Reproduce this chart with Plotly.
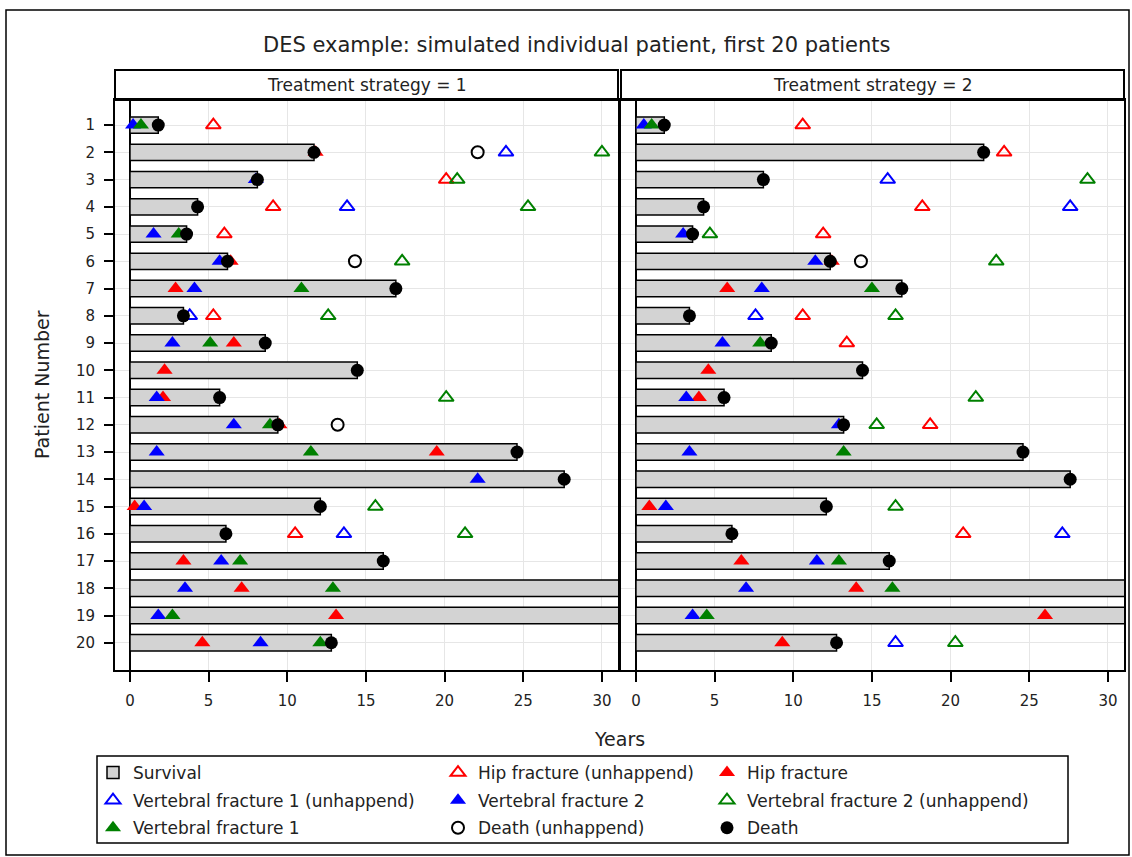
import plotly.graph_objects as go

patients = list(range(1, 21))
N = None

# ---------- Treatment strategy = 1 ----------
t1_survival = [1.8, 11.7, 8.1, 4.3, 3.6, 6.2, 16.9, 3.4, 8.6, 14.45, 5.7, 9.4, 24.6, 27.6, 12.1, 6.1, 16.1, 35, 35, 12.8]
t1_death    = [1.8, 11.7, 8.1, 4.3, 3.6, 6.2, 16.9, 3.4, 8.6, 14.45, 5.7, 9.4, 24.6, 27.6, 12.1, 6.1, 16.1, N, N, 12.8]
t1_hip      = [N, 11.8, N, N, N, 6.4, 2.9, N, 6.6, 2.2, 2.1, 9.5, 19.5, N, 0.3, N, 3.4, 7.1, 13.1, 4.6]
t1_vert2    = [0.2, N, 8.0, N, 1.5, 5.7, 4.1, N, 2.7, N, 1.7, 6.6, 1.7, 22.1, 0.9, N, 5.8, 3.5, 1.8, 8.3]
t1_vert1    = [0.7, N, N, N, 3.1, N, 10.9, N, 5.1, N, N, 8.9, 11.5, N, N, N, 7.0, 12.9, 2.7, 12.1]
t1_hip_un   = [5.3, N, 20.1, 9.1, 6.0, N, N, 5.3, N, N, N, N, N, N, N, 10.5, N, N, N, N]
t1_vert1_un = [N, 23.9, N, 13.8, N, N, N, 3.8, N, N, N, N, N, N, N, 13.6, N, N, N, N]
t1_vert2_un = [N, 30.0, 20.8, 25.3, N, 17.3, N, 12.6, N, N, 20.1, N, N, N, 15.6, 21.3, N, N, N, N]
t1_death_un = [N, 22.1, N, N, N, 14.3, N, N, N, N, N, 13.2, N, N, N, N, N, N, N, N]

# ---------- Treatment strategy = 2 ----------
t2_survival = [1.8, 22.1, 8.1, 4.3, 3.6, 12.35, 16.9, 3.4, 8.6, 14.4, 5.6, 13.2, 24.6, 27.6, 12.1, 6.1, 16.1, 35, 35, 12.75]
t2_death    = [1.8, 22.1, 8.1, 4.3, 3.6, 12.35, 16.9, 3.4, 8.6, 14.4, 5.6, 13.2, 24.6, 27.6, 12.1, 6.1, 16.1, N, N, 12.75]
t2_hip      = [N, N, N, N, N, 12.45, 5.8, N, N, 4.6, 4.0, N, N, N, 0.85, N, 6.7, 14.0, 26.0, 9.3]
t2_vert2    = [0.5, N, N, N, 3.0, 11.4, 8.0, N, 5.5, N, 3.2, 12.9, 3.4, N, 1.9, N, 11.5, 7.0, 3.6, N]
t2_vert1    = [1.0, N, N, N, N, N, 15.0, N, 7.9, N, N, N, 13.2, N, N, N, 12.9, 16.3, 4.5, N]
t2_hip_un   = [10.6, 23.4, N, 18.2, 11.9, N, N, 10.6, 13.4, N, N, 18.7, N, N, N, 20.8, N, N, N, N]
t2_vert1_un = [N, N, 16.0, 27.6, N, N, N, 7.6, N, N, N, N, N, N, N, 27.1, N, N, N, 16.5]
t2_vert2_un = [N, N, 28.7, N, 4.7, 22.9, N, 16.5, N, N, 21.6, 15.3, N, N, 16.5, N, N, N, N, 20.3]
t2_death_un = [N, N, N, N, N, 14.3, N, N, N, N, N, N, N, N, N, N, N, N, N, N]

x_ticks = [0, 5, 10, 15, 20, 25, 30]
panel_titles = ["Treatment strategy = 1", "Treatment strategy = 2"]
title_text = "DES example: simulated individual patient, first 20 patients"

W, H = 1132, 857
FONT = "DejaVu Sans"
TXT = "#222"
def px(x):
    return x / W
def py(y):
    return 1 - y / H

RED, BLUE, GREEN, BLACK = "#ff0000", "#0000ff", "#008000", "#000000"

fig = go.Figure()

panels = [
    dict(xa="x", ya="y", surv=t1_survival, death=t1_death, hip=t1_hip, v2=t1_vert2, v1=t1_vert1,
         hip_un=t1_hip_un, v1_un=t1_vert1_un, v2_un=t1_vert2_un, death_un=t1_death_un),
    dict(xa="x2", ya="y2", surv=t2_survival, death=t2_death, hip=t2_hip, v2=t2_vert2, v1=t2_vert1,
         hip_un=t2_hip_un, v1_un=t2_vert1_un, v2_un=t2_vert2_un, death_un=t2_death_un),
]

def pts(vals):
    xs, ys = [], []
    for p, v in zip(patients, vals):
        if v is not None:
            xs.append(v)
            ys.append(p)
    return xs, ys

# (key, name, symbol, color, size, line width, legend, rank)
series = [
    ("hip_un", "Hip fracture (unhappend)", "triangle-up-open", RED, 13, 2, "legend2", 1),
    ("v1_un", "Vertebral fracture 1 (unhappend)", "triangle-up-open", BLUE, 13, 2, "legend", 2),
    ("v2_un", "Vertebral fracture 2 (unhappend)", "triangle-up-open", GREEN, 13, 2, "legend3", 2),
    ("death_un", "Death (unhappend)", "circle-open", BLACK, 12, 2, "legend2", 3),
    ("hip", "Hip fracture", "triangle-up", RED, 14, 0, "legend3", 1),
    ("v2", "Vertebral fracture 2", "triangle-up", BLUE, 14, 0, "legend2", 2),
    ("v1", "Vertebral fracture 1", "triangle-up", GREEN, 14, 0, "legend", 3),
    ("death", "Death", "circle", BLACK, 13, 0, "legend3", 3),
]

for i, pn in enumerate(panels):
    show = i == 0
    fig.add_trace(go.Bar(
        x=pn["surv"], y=patients, orientation="h", width=0.6, base=0,
        marker=dict(color="#d3d3d3", line=dict(color="black", width=1.5)),
        name="Survival", legend="legend", legendgroup="surv", legendrank=1,
        showlegend=show, xaxis=pn["xa"], yaxis=pn["ya"],
    ))
    for key, name, sym, col, size, lw, leg, rank in series:
        xs, ys = pts(pn[key])
        fig.add_trace(go.Scatter(
            x=xs, y=ys, mode="markers", name=name,
            marker=dict(symbol=sym, color=col, size=size, line=dict(color=col, width=lw)),
            legend=leg, legendgroup=key, legendrank=rank, showlegend=show,
            xaxis=pn["xa"], yaxis=pn["ya"],
        ))

xcommon = dict(
    range=[-0.95, 31.02], tickmode="array", tickvals=x_ticks, ticks="outside", ticklen=10,
    tickwidth=1.5, tickcolor="black", showgrid=True, gridcolor="#e6e6e6", gridwidth=1,
    zeroline=True, zerolinecolor="black", zerolinewidth=2, showline=True, mirror=True,
    linecolor="black", linewidth=2, tickfont=dict(family=FONT, size=15, color=TXT),
    ticklabelstandoff=6, fixedrange=True,
)
ycommon = dict(
    range=[21.0, 0.08], tickmode="array", tickvals=patients, showgrid=True, gridcolor="#e6e6e6",
    gridwidth=1, zeroline=False, showline=True, mirror=True, linecolor="black", linewidth=2,
    domain=[py(670), py(100)], fixedrange=True,
)

fig.update_layout(
    width=W, height=H, margin=dict(l=0, r=0, t=0, b=0),
    paper_bgcolor="white", plot_bgcolor="white",
    font=dict(family=FONT, size=15, color=TXT),
    xaxis=dict(domain=[px(115), px(618)], anchor="y", **xcommon),
    xaxis2=dict(domain=[px(621), px(1124)], anchor="y2", **xcommon),
    yaxis=dict(anchor="x", ticks="outside", ticklen=9, tickwidth=1.5, tickcolor="black",
               tickfont=dict(family=FONT, size=15, color=TXT), ticklabelstandoff=6, **ycommon),
    yaxis2=dict(anchor="x2", matches="y", showticklabels=False, ticks="", **ycommon),
    showlegend=True,
    barmode="overlay",
)

leg_common = dict(
    bgcolor="rgba(0,0,0,0)", borderwidth=0, traceorder="grouped", tracegroupgap=2.5,
    itemwidth=30, xanchor="left", yanchor="top", font=dict(family=FONT, size=17, color=TXT),
    itemclick=False, itemdoubleclick=False,
)
fig.update_layout(
    legend=dict(x=px(93), y=py(755), **leg_common),
    legend2=dict(x=px(438), y=py(755), **leg_common),
    legend3=dict(x=px(707), y=py(755), **leg_common),
)

shapes = [
    dict(type="rect", xref="paper", yref="paper", x0=px(6), x1=px(1129), y0=py(855), y1=py(10),
         line=dict(color="black", width=1.5)),
    dict(type="rect", xref="paper", yref="paper", x0=px(97), x1=px(1068), y0=py(843), y1=py(756),
         line=dict(color="black", width=1.5)),
    dict(type="rect", xref="paper", yref="paper", x0=px(115), x1=px(618), y0=py(100), y1=py(70),
         line=dict(color="black", width=2)),
    dict(type="rect", xref="paper", yref="paper", x0=px(621), x1=px(1124), y0=py(100), y1=py(70),
         line=dict(color="black", width=2)),
]
fig.update_layout(shapes=shapes)

annotations = [
    dict(text=title_text, x=px(576), y=py(45), xref="paper", yref="paper", showarrow=False,
         font=dict(family=FONT, size=21, color=TXT), xanchor="center", yanchor="middle"),
    dict(text=panel_titles[0], x=px(366.5), y=py(85), xref="paper", yref="paper", showarrow=False,
         font=dict(family=FONT, size=17, color=TXT), xanchor="center", yanchor="middle"),
    dict(text=panel_titles[1], x=px(872.5), y=py(85), xref="paper", yref="paper", showarrow=False,
         font=dict(family=FONT, size=17, color=TXT), xanchor="center", yanchor="middle"),
    dict(text="Years", x=px(619.5), y=py(739), xref="paper", yref="paper", showarrow=False,
         font=dict(family=FONT, size=19, color=TXT), xanchor="center", yanchor="middle"),
    dict(text="Patient Number", x=px(42), y=py(385), xref="paper", yref="paper", showarrow=False,
         textangle=-90, font=dict(family=FONT, size=19, color=TXT), xanchor="center", yanchor="middle"),
]
fig.update_layout(annotations=annotations)

fig.write_html("out.html", config={"displayModeBar": False},
               post_script="document.body.style.margin='0';document.body.style.overflow='hidden';")
